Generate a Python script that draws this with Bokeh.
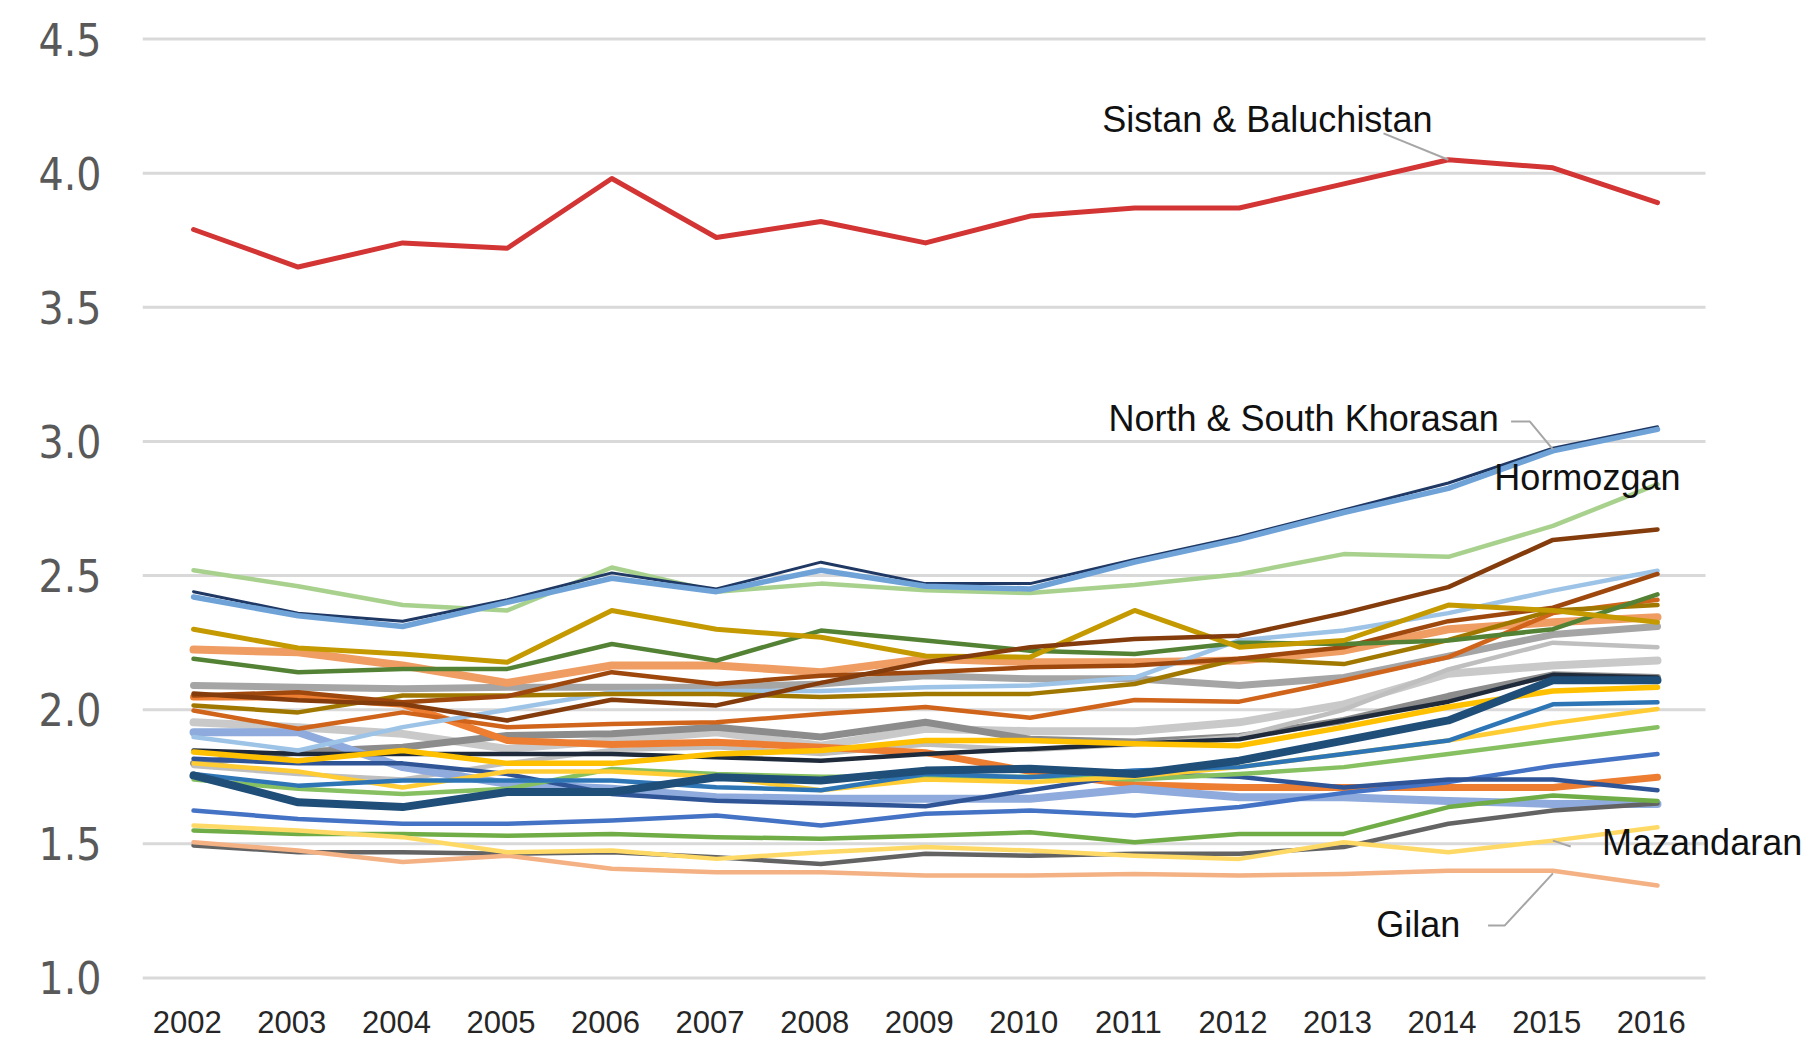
from bokeh.plotting import figure
from bokeh.models import FixedTicker, Label, Range1d
from bokeh.embed import file_html
from bokeh.resources import INLINE

# ---------------- data ----------------
years = list(range(2002, 2017))
y_ticks = [1.0, 1.5, 2.0, 2.5, 3.0, 3.5, 4.0, 4.5]
y_tick_labels = ["1.0", "1.5", "2.0", "2.5", "3.0", "3.5", "4.0", "4.5"]
year_labels = [str(y) for y in years]

sistan_baluchistan = [3.79, 3.65, 3.74, 3.72, 3.98, 3.76, 3.82, 3.74, 3.84, 3.87, 3.87, 3.96, 4.05, 4.02, 3.89]
north_khorasan = [2.44, 2.36, 2.33, 2.41, 2.51, 2.45, 2.55, 2.47, 2.47, 2.56, 2.645, 2.745, 2.845, 2.975, 3.055]
south_khorasan = [2.42, 2.35, 2.31, 2.40, 2.49, 2.44, 2.52, 2.46, 2.45, 2.55, 2.635, 2.735, 2.825, 2.965, 3.045]
hormozgan = [2.52, 2.46, 2.39, 2.37, 2.53, 2.44, 2.47, 2.445, 2.435, 2.465, 2.505, 2.58, 2.57, 2.685, 2.84]
prov_dark_brown = [2.06, 2.035, 2.02, 1.96, 2.037, 2.016, 2.10, 2.177, 2.233, 2.264, 2.276, 2.36, 2.457, 2.633, 2.672]
prov_brown = [2.053, 2.065, 2.028, 2.05, 2.14, 2.096, 2.127, 2.14, 2.158, 2.165, 2.19, 2.233, 2.33, 2.38, 2.506]
prov_gold = [2.30, 2.23, 2.208, 2.177, 2.37, 2.30, 2.27, 2.20, 2.196, 2.37, 2.233, 2.258, 2.39, 2.37, 2.326]
prov_light_orange = [2.224, 2.214, 2.165, 2.10, 2.165, 2.165, 2.14, 2.19, 2.177, 2.177, 2.183, 2.22, 2.30, 2.326, 2.345]
prov_green = [2.19, 2.14, 2.152, 2.152, 2.245, 2.183, 2.295, 2.258, 2.22, 2.208, 2.25, 2.245, 2.258, 2.30, 2.43]
prov_gray = [2.09, 2.084, 2.078, 2.084, 2.084, 2.084, 2.096, 2.127, 2.115, 2.115, 2.09, 2.12, 2.20, 2.28, 2.31]
prov_olive = [2.016, 1.99, 2.053, 2.053, 2.059, 2.059, 2.047, 2.059, 2.059, 2.096, 2.19, 2.17, 2.26, 2.37, 2.39]
prov_light_blue = [1.898, 1.848, 1.935, 2.0, 2.065, 2.07, 2.07, 2.084, 2.09, 2.12, 2.258, 2.295, 2.36, 2.444, 2.518]
prov_dark_orange = [1.997, 1.929, 1.99, 1.935, 1.947, 1.953, 1.984, 2.01, 1.97, 2.036, 2.03, 2.11, 2.196, 2.36, 2.41]
prov_orange = [2.047, 2.047, 2.02, 1.885, 1.87, 1.879, 1.86, 1.84, 1.77, 1.72, 1.71, 1.71, 1.71, 1.71, 1.748]
prov_light_gray = [1.953, 1.935, 1.91, 1.854, 1.885, 1.916, 1.866, 1.929, 1.92, 1.92, 1.953, 2.02, 2.134, 2.165, 2.183]
prov_mid_gray = [1.80, 1.842, 1.86, 1.904, 1.91, 1.935, 1.898, 1.953, 1.89, 1.88, 1.90, 1.96, 2.05, 2.13, 2.12]
prov_silver = [1.79, 1.76, 1.74, 1.80, 1.85, 1.86, 1.835, 1.87, 1.85, 1.87, 1.90, 2.0, 2.15, 2.25, 2.233]
prov_black = [1.848, 1.835, 1.835, 1.835, 1.835, 1.823, 1.81, 1.835, 1.854, 1.873, 1.89, 1.96, 2.03, 2.13, 2.12]
prov_amber = [1.842, 1.81, 1.848, 1.80, 1.80, 1.835, 1.848, 1.885, 1.885, 1.873, 1.866, 1.935, 2.01, 2.07, 2.084]
prov_yellow = [1.80, 1.77, 1.71, 1.77, 1.77, 1.75, 1.70, 1.74, 1.73, 1.75, 1.786, 1.835, 1.885, 1.95, 2.003]
prov_navy = [1.755, 1.655, 1.637, 1.693, 1.693, 1.748, 1.736, 1.773, 1.78, 1.76, 1.81, 1.885, 1.96, 2.11, 2.11]
prov_blue = [1.76, 1.717, 1.736, 1.736, 1.736, 1.711, 1.70, 1.76, 1.748, 1.773, 1.786, 1.835, 1.885, 2.02, 2.028]
prov_spring_green = [1.74, 1.705, 1.686, 1.705, 1.779, 1.76, 1.75, 1.75, 1.75, 1.74, 1.76, 1.786, 1.835, 1.885, 1.935]
prov_periwinkle = [1.916, 1.916, 1.786, 1.724, 1.705, 1.674, 1.668, 1.668, 1.668, 1.705, 1.674, 1.674, 1.66, 1.649, 1.649]
prov_royal_blue = [1.817, 1.80, 1.80, 1.76, 1.686, 1.661, 1.65, 1.64, 1.70, 1.76, 1.75, 1.71, 1.74, 1.74, 1.70]
prov_cobalt = [1.624, 1.593, 1.575, 1.575, 1.587, 1.606, 1.568, 1.612, 1.624, 1.606, 1.637, 1.69, 1.73, 1.79, 1.835]
prov_leaf_green = [1.55, 1.537, 1.537, 1.53, 1.537, 1.525, 1.519, 1.53, 1.543, 1.506, 1.537, 1.537, 1.637, 1.68, 1.66]
mazandaran = [1.568, 1.55, 1.525, 1.469, 1.475, 1.444, 1.469, 1.488, 1.475, 1.456, 1.444, 1.506, 1.469, 1.512, 1.562]
prov_dark_gray = [1.494, 1.469, 1.469, 1.463, 1.469, 1.45, 1.425, 1.463, 1.456, 1.463, 1.463, 1.488, 1.575, 1.624, 1.65]
gilan = [1.506, 1.475, 1.432, 1.456, 1.407, 1.394, 1.394, 1.382, 1.382, 1.388, 1.382, 1.388, 1.40, 1.40, 1.345]

# (values, colour, width) in drawing order
series = [
    (prov_light_gray, "#c9c9c9", 8),
    (prov_mid_gray, "#8c8c8c", 7),
    (prov_gray, "#a5a5a5", 7),
    (prov_silver, "#bfbfbf", 4.5),
    (prov_light_orange, "#f09d63", 8),
    (prov_orange, "#ed7d31", 7),
    (prov_periwinkle, "#8faadc", 8),
    (prov_dark_gray, "#636363", 4.5),
    (gilan, "#f4b183", 4.5),
    (prov_leaf_green, "#70ad47", 4.5),
    (mazandaran, "#ffd966", 4.5),
    (prov_cobalt, "#4472c4", 4.5),
    (prov_royal_blue, "#2f5597", 4.5),
    (prov_spring_green, "#86c060", 4.5),
    (prov_yellow, "#ffcc33", 4.5),
    (prov_blue, "#2e75b6", 4.5),
    (prov_black, "#1f2b3b", 4.5),
    (prov_amber, "#ffc000", 5.5),
    (prov_navy, "#1f4e79", 8),
    (prov_dark_orange, "#d0641a", 4.5),
    (prov_light_blue, "#9dc3e6", 4.5),
    (prov_olive, "#a07800", 4.5),
    (prov_brown, "#9e480e", 4.5),
    (prov_green, "#548235", 4.5),
    (prov_gold, "#c49a00", 5),
    (prov_dark_brown, "#843c0c", 4.5),
    (hormozgan, "#a9d18e", 4.5),
    (north_khorasan, "#1f3864", 3),
    (south_khorasan, "#6fa3d8", 5.5),
    (sistan_baluchistan, "#d33434", 5),
]

# annotation texts, anchored in data coordinates (left, baseline)
ann_texts = ["Sistan & Baluchistan", "North & South Khorasan", "Hormozgan", "Mazandaran", "Gilan"]
ann_x = [2010.69, 2010.75, 2014.44, 2015.47, 2013.31]
ann_y = [4.200, 3.085, 2.865, 1.505, 1.199]

leader_sistan_x = [2013.38, 2014.0]
leader_sistan_y = [4.148, 4.05]
leader_khorasan_x = [2014.60, 2014.78, 2015.0]
leader_khorasan_y = [3.074, 3.074, 2.97]
leader_mazandaran_x = [2015.0, 2015.17]
leader_mazandaran_y = [1.512, 1.49]
leader_gilan_x = [2014.38, 2014.54, 2015.0]
leader_gilan_y = [1.196, 1.196, 1.39]

# extent of the horizontal gridlines (the plotting area of the original)
grid_x_start = 2001.512
grid_x_end = 2016.459
label_shift = 0.06   # the original's year labels sit slightly left of the points

# ---------------- figure ----------------
p = figure(
    width=1808, height=1050,
    x_range=Range1d(grid_x_start, 2017.425),
    y_range=Range1d(0.9683, 4.5317),
    output_backend="svg", toolbar_location=None,
    min_border_left=142, min_border_right=2,
    min_border_top=30, min_border_bottom=64,
)
p.outline_line_color = None
p.background_fill_color = "white"
p.border_fill_color = "white"
p.xgrid.grid_line_color = None
p.ygrid.grid_line_color = None

# horizontal gridlines limited to the original plotting area
p.segment(x0=[grid_x_start] * len(y_ticks), x1=[grid_x_end] * len(y_ticks),
          y0=y_ticks, y1=y_ticks, line_color="#d9d9d9", line_width=3)

p.yaxis.ticker = FixedTicker(ticks=y_ticks)
p.yaxis.major_label_overrides = {t: s for t, s in zip(y_ticks, y_tick_labels)}
p.yaxis.axis_line_color = None
p.yaxis.major_tick_line_color = None
p.yaxis.minor_tick_line_color = None
p.yaxis.major_tick_out = 0
p.yaxis.major_label_standoff = 41
p.yaxis.major_label_text_font = "Liberation Sans Narrow, DejaVu Sans Condensed, sans-serif"
p.yaxis.major_label_text_font_size = "44px"
p.yaxis.major_label_text_color = "#595959"

x_tick_pos = [round(y - label_shift, 2) for y in years]
p.xaxis.ticker = FixedTicker(ticks=x_tick_pos)
p.xaxis.major_label_overrides = {t: s for t, s in zip(x_tick_pos, year_labels)}
p.xaxis.axis_line_color = None
p.xaxis.major_tick_line_color = None
p.xaxis.minor_tick_line_color = None
p.xaxis.major_tick_out = 0
p.xaxis.major_label_standoff = 24
p.xaxis.major_label_text_font = "Liberation Sans"
p.xaxis.major_label_text_font_size = "31px"
p.xaxis.major_label_text_color = "#262626"

for vals, color, w in series:
    p.line(years, vals, line_color=color, line_width=w, line_join="round", line_cap="round")

for lx, ly in [(leader_sistan_x, leader_sistan_y), (leader_khorasan_x, leader_khorasan_y),
               (leader_mazandaran_x, leader_mazandaran_y), (leader_gilan_x, leader_gilan_y)]:
    p.line(lx, ly, line_color="#a6a6a6", line_width=2)

for t, x, y in zip(ann_texts, ann_x, ann_y):
    p.add_layout(Label(x=x, y=y, text=t, text_font="Liberation Sans", text_font_size="36px",
                       text_color="#111111", text_align="left", text_baseline="alphabetic"))

open("out.html", "w").write(file_html(p, INLINE))
